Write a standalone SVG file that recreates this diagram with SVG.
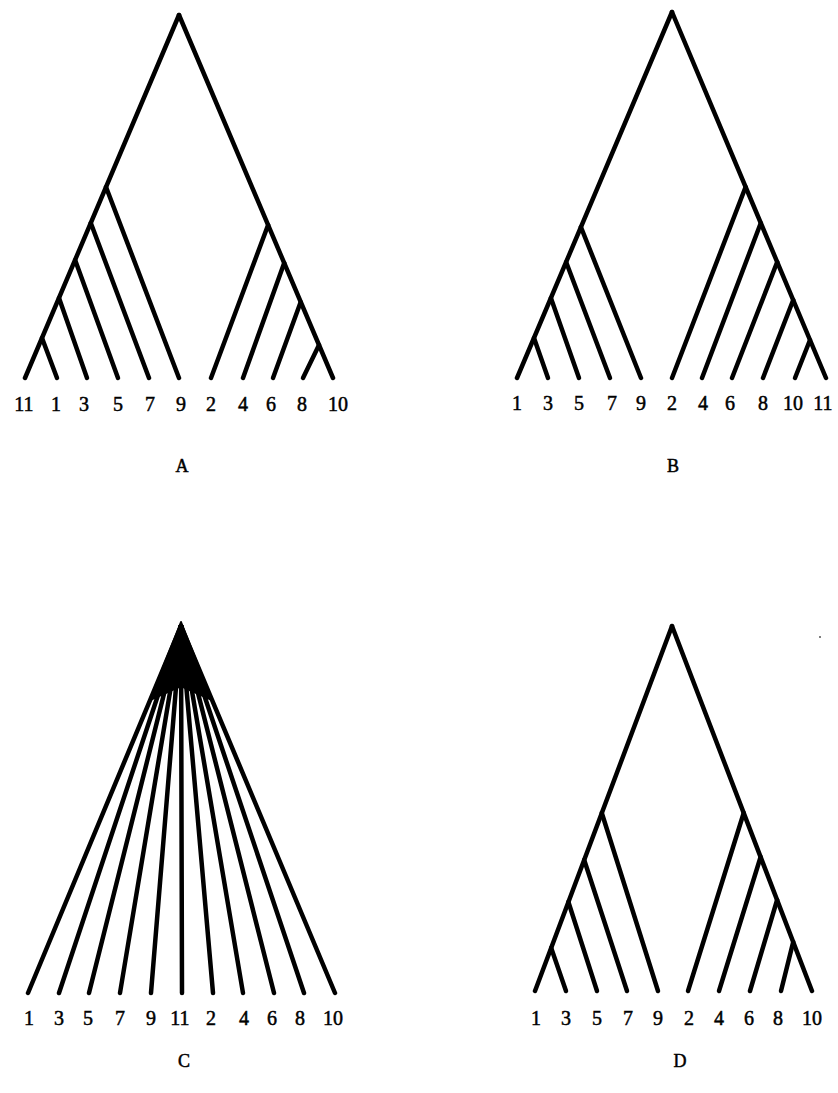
<svg xmlns="http://www.w3.org/2000/svg" width="838" height="1093" viewBox="0 0 838 1093">
<style>
.e line{stroke:#000;stroke-width:4.5;stroke-linecap:round;fill:none}
.lbl{font-family:"Liberation Serif","Times New Roman",serif;font-size:20px;fill:#000;stroke:#000;stroke-width:0.5;text-anchor:middle}
.cap{font-family:"Liberation Serif","Times New Roman",serif;font-size:18px;fill:#000;stroke:#000;stroke-width:0.5;text-anchor:middle}
</style>
<rect width="838" height="1093" fill="#fff"/>

<!-- Tree A -->
<g id="treeA">
<g id="treeA-edges" class="e">
<line x1="179" y1="15" x2="25" y2="378"/>
<line x1="179" y1="15" x2="333" y2="378"/>
<line x1="106" y1="187" x2="179" y2="378"/>
<line x1="90.8" y1="223" x2="149" y2="378"/>
<line x1="75.1" y1="260" x2="118" y2="378"/>
<line x1="59" y1="298" x2="87" y2="378"/>
<line x1="42" y1="338" x2="57" y2="378"/>
<line x1="268.1" y1="225" x2="211" y2="378"/>
<line x1="284.2" y1="263" x2="243" y2="378"/>
<line x1="300.7" y1="302" x2="273" y2="378"/>
<line x1="319" y1="345" x2="303" y2="378"/>
</g>
<g id="treeA-leaves">
<text id="A-11" class="lbl" x="24" y="411">11</text>
<text id="A-1" class="lbl" x="56" y="411">1</text>
<text id="A-3" class="lbl" x="84" y="411">3</text>
<text id="A-5" class="lbl" x="118" y="411">5</text>
<text id="A-7" class="lbl" x="150" y="411">7</text>
<text id="A-9" class="lbl" x="181" y="411">9</text>
<text id="A-2" class="lbl" x="211" y="411">2</text>
<text id="A-4" class="lbl" x="243" y="411">4</text>
<text id="A-6" class="lbl" x="271" y="411">6</text>
<text id="A-8" class="lbl" x="302" y="411">8</text>
<text id="A-10" class="lbl" x="338" y="411">10</text>
</g>
<text id="A-caption" class="cap" x="182" y="472">A</text>
</g>

<!-- Tree B -->
<g id="treeB">
<g id="treeB-edges" class="e">
<line x1="672" y1="12" x2="517" y2="378"/>
<line x1="672" y1="12" x2="826" y2="378"/>
<line x1="580.9" y1="227" x2="641" y2="378"/>
<line x1="566.1" y1="262" x2="610" y2="378"/>
<line x1="550.9" y1="298" x2="579" y2="378"/>
<line x1="534" y1="338" x2="548" y2="378"/>
<line x1="745.6" y1="187" x2="672" y2="378"/>
<line x1="760.8" y1="223" x2="702" y2="378"/>
<line x1="777.2" y1="262" x2="732" y2="378"/>
<line x1="793.2" y1="300" x2="763" y2="378"/>
<line x1="810" y1="340" x2="795" y2="378"/>
</g>
<g id="treeB-leaves">
<text id="B-1" class="lbl" x="517" y="410">1</text>
<text id="B-3" class="lbl" x="548" y="410">3</text>
<text id="B-5" class="lbl" x="579" y="410">5</text>
<text id="B-7" class="lbl" x="612" y="410">7</text>
<text id="B-9" class="lbl" x="641" y="410">9</text>
<text id="B-2" class="lbl" x="672" y="410">2</text>
<text id="B-4" class="lbl" x="703" y="410">4</text>
<text id="B-6" class="lbl" x="730" y="410">6</text>
<text id="B-8" class="lbl" x="763" y="410">8</text>
<text id="B-10" class="lbl" x="793" y="410">10</text>
<text id="B-11" class="lbl" x="823" y="410">11</text>
</g>
<text id="B-caption" class="cap" x="673" y="472">B</text>
</g>

<!-- Tree C -->
<g id="treeC">
<g id="treeC-edges" class="e">
<polygon points="181,622 212,700 181,686 150,700" fill="#000" stroke="#000" stroke-width="2" stroke-linejoin="round"/>
<line x1="181" y1="626" x2="28" y2="993"/>
<line x1="181" y1="626" x2="59" y2="993"/>
<line x1="181" y1="626" x2="89" y2="993"/>
<line x1="181" y1="626" x2="120" y2="993"/>
<line x1="181" y1="626" x2="151" y2="993"/>
<line x1="181" y1="626" x2="182" y2="993"/>
<line x1="181" y1="626" x2="213" y2="993"/>
<line x1="181" y1="626" x2="243" y2="993"/>
<line x1="181" y1="626" x2="274" y2="993"/>
<line x1="181" y1="626" x2="304" y2="993"/>
<line x1="181" y1="626" x2="335" y2="993"/>
</g>
<g id="treeC-leaves">
<text id="C-1" class="lbl" x="29" y="1025">1</text>
<text id="C-3" class="lbl" x="59" y="1025">3</text>
<text id="C-5" class="lbl" x="88" y="1025">5</text>
<text id="C-7" class="lbl" x="120" y="1025">7</text>
<text id="C-9" class="lbl" x="151" y="1025">9</text>
<text id="C-11" class="lbl" x="180" y="1025">11</text>
<text id="C-2" class="lbl" x="211" y="1025">2</text>
<text id="C-4" class="lbl" x="244" y="1025">4</text>
<text id="C-6" class="lbl" x="272" y="1025">6</text>
<text id="C-8" class="lbl" x="300" y="1025">8</text>
<text id="C-10" class="lbl" x="333" y="1025">10</text>
</g>
<text id="C-caption" class="cap" x="184" y="1067">C</text>
</g>

<!-- Tree D -->
<g id="treeD">
<g id="treeD-edges" class="e">
<line x1="672" y1="626" x2="535" y2="991"/>
<line x1="672" y1="626" x2="812" y2="991"/>
<line x1="601.8" y1="813" x2="658" y2="991"/>
<line x1="584.2" y1="860" x2="627" y2="991"/>
<line x1="568.4" y1="902" x2="597" y2="991"/>
<line x1="551.2" y1="948" x2="566" y2="991"/>
<line x1="743.7" y1="813" x2="688" y2="991"/>
<line x1="760.6" y1="857" x2="719" y2="991"/>
<line x1="777.1" y1="900" x2="750" y2="991"/>
<line x1="793.2" y1="942" x2="781" y2="991"/>
</g>
<g id="treeD-leaves">
<text id="D-1" class="lbl" x="536" y="1025">1</text>
<text id="D-3" class="lbl" x="566" y="1025">3</text>
<text id="D-5" class="lbl" x="597" y="1025">5</text>
<text id="D-7" class="lbl" x="628" y="1025">7</text>
<text id="D-9" class="lbl" x="658" y="1025">9</text>
<text id="D-2" class="lbl" x="689" y="1025">2</text>
<text id="D-4" class="lbl" x="719" y="1025">4</text>
<text id="D-6" class="lbl" x="749" y="1025">6</text>
<text id="D-8" class="lbl" x="778" y="1025">8</text>
<text id="D-10" class="lbl" x="812" y="1025">10</text>
</g>
<text id="D-caption" class="cap" x="680" y="1067">D</text>
<circle cx="820" cy="637" r="1" fill="#555"/>
</g>
</svg>
